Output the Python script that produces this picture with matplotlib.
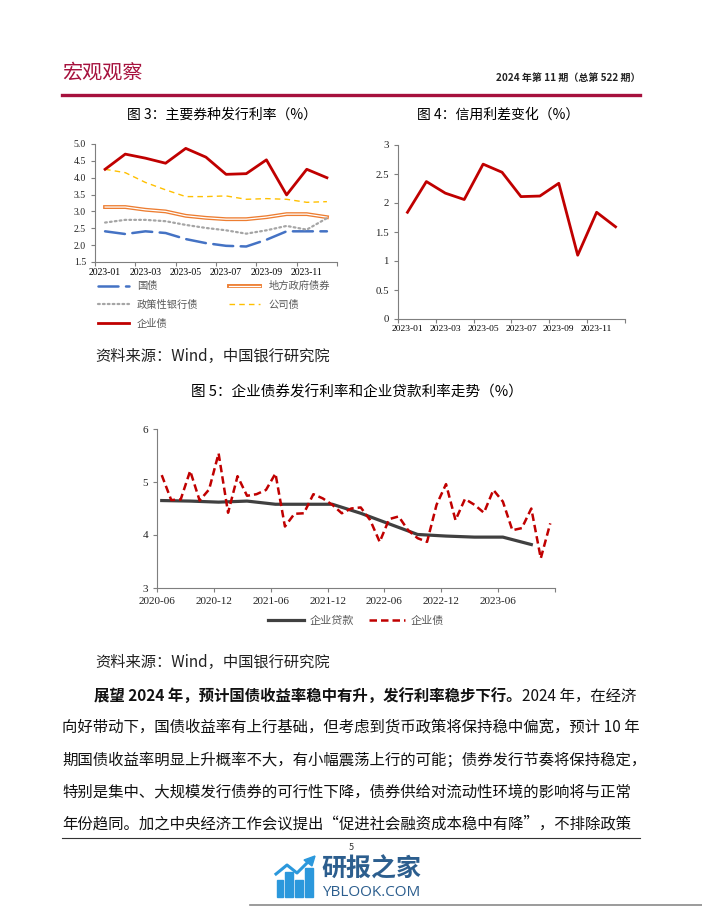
import numpy as np
import pandas as pd
import matplotlib
matplotlib.use('Agg')
import matplotlib.pyplot as plt
from matplotlib.patches import Rectangle, Polygon

plt.rcParams['font.family'] = ['Noto Sans CJK SC', 'DejaVu Sans']

# ---- data: 图3 主要券种发行利率 (2023-01 .. 2023-12)
months_23 = ['2023-01', '2023-02', '2023-03', '2023-04', '2023-05', '2023-06',
             '2023-07', '2023-08', '2023-09', '2023-10', '2023-11', '2023-12']
guozhai = [2.41, 2.33, 2.41, 2.36, 2.18, 2.06, 1.98, 1.96, 2.16, 2.41, 2.41, 2.41]
difang = [3.13, 3.13, 3.05, 3.00, 2.87, 2.81, 2.77, 2.77, 2.83, 2.92, 2.92, 2.83]
zhengce = [2.67, 2.75, 2.75, 2.71, 2.60, 2.51, 2.44, 2.34, 2.44, 2.57, 2.46, 2.80]
gongsi = [4.25, 4.15, 3.86, 3.64, 3.44, 3.44, 3.46, 3.36, 3.38, 3.36, 3.27, 3.29]
qiye = [4.25, 4.70, 4.58, 4.43, 4.87, 4.61, 4.10, 4.12, 4.53, 3.49, 4.25, 4.00]

# ---- data: 图4 信用利差变化
spread = [1.84, 2.37, 2.17, 2.06, 2.67, 2.53, 2.11, 2.12, 2.34, 1.10, 1.84, 1.59]

# ---- data: 图5 企业债券发行利率和企业贷款利率 (2020-06 .. 2023-11)
bond_months = [str(p) for p in pd.period_range('2020-06', '2023-11', freq='M')]
bond_rate = [5.13, 4.66, 4.67, 5.21, 4.65, 4.86, 5.54, 4.42, 5.11, 4.74,
             4.77, 4.85, 5.16, 4.16, 4.40, 4.41, 4.77, 4.69, 4.57, 4.41,
             4.50, 4.52, 4.28, 3.87, 4.30, 4.35, 4.09, 3.94, 3.87, 4.57,
             4.96, 4.28, 4.68, 4.57, 4.42, 4.85, 4.63, 4.09, 4.13, 4.50,
             3.56, 4.22]
loan_months = ['2020-06', '2020-09', '2020-12', '2021-03', '2021-06', '2021-09',
               '2021-12', '2022-03', '2022-06', '2022-09', '2022-12', '2023-03',
               '2023-06', '2023-09']
loan_rate = [4.65, 4.64, 4.62, 4.64, 4.58, 4.58, 4.58, 4.41, 4.21, 4.01,
             3.98, 3.96, 3.96, 3.82]
tick_labels_5 = ['2020-06', '2020-12', '2021-06', '2021-12', '2022-06',
                 '2022-12', '2023-06']

W, H = 702, 907
RED = '#C00000'
CRIMSON = '#A6113D'
SERIF = 'Liberation Serif'


def fx(x):
    return x / W


def fy(y):
    return 1 - y / H


def style_axes(ax):
    for s in ['top', 'right']:
        ax.spines[s].set_visible(False)
    for s in ['left', 'bottom']:
        ax.spines[s].set_color('#7f7f7f')
        ax.spines[s].set_linewidth(0.8)
    ax.tick_params(colors='#7f7f7f', length=3, width=0.8, labelcolor='#222222')


fig = plt.figure(figsize=(W / 100, H / 100), dpi=100)

# ---- page header
fig.text(fx(62), fy(73), '宏观观察', fontsize=14.5, color=CRIMSON, va='center')
fig.text(fx(640), fy(78), '2024 年第 11 期（总第 522 期）', fontsize=7.2,
         color='#222222', ha='right', va='center', fontweight='bold')
fig.add_artist(plt.Line2D([fx(62), fx(640)], [fy(95), fy(95)], color=CRIMSON, lw=2.4))

# ---- 图3
fig.text(fx(222), fy(115), '图 3：主要券种发行利率（%）', fontsize=10, ha='center', va='center')
ax3 = fig.add_axes([fx(95), fy(262), 242 / W, 118 / H])
x = np.arange(len(months_23)) + 0.5
l_gz, = ax3.plot(x, guozhai, color='#4472C4', lw=1.8, dashes=(8, 3), dash_capstyle='round')
l_df1, = ax3.plot(x, difang, color='#ED7D31', lw=2.8)
l_df2, = ax3.plot(x, difang, color='white', lw=0.9)
l_zc, = ax3.plot(x, zhengce, color='#A5A5A5', lw=1.6, dashes=(0.8, 1.4), dash_capstyle='round')
l_gs, = ax3.plot(x, gongsi, color='#FFC000', lw=1.0, dashes=(4, 3))
l_qy, = ax3.plot(x, qiye, color=RED, lw=2.0)
ax3.set_xlim(0, 12)
ax3.set_ylim(1.5, 5.0)
ax3.set_yticks(np.arange(1.5, 5.01, 0.5))
ax3.set_yticklabels(['%.1f' % v for v in np.arange(1.5, 5.01, 0.5)])
ax3.set_xticks(np.arange(0, 13, 2))
ax3.set_xticklabels([])
ax3.set_xticks(x[::2], minor=True)
ax3.set_xticklabels(months_23[::2], minor=True)
style_axes(ax3)
ax3.tick_params(axis='x', which='minor', length=0, pad=4)
for t in ax3.get_xticklabels(minor=True) + ax3.get_yticklabels():
    t.set_family(SERIF)
    t.set_fontsize(7)

fig.legend([l_gz, l_zc, l_qy, (l_df1, l_df2), l_gs],
           ['国债', '政策性银行债', '企业债', '地方政府债券', '公司债'],
           loc='upper left', bbox_to_anchor=(fx(98), fy(281)), ncol=2,
           frameon=False, fontsize=7.4, handlelength=3.0, handletextpad=0.8,
           labelspacing=0.85, columnspacing=3.0, labelcolor='#595959',
           borderaxespad=0, borderpad=0)

# ---- 图4
fig.text(fx(498), fy(115), '图 4：信用利差变化（%）', fontsize=10, ha='center', va='center')
ax4 = fig.add_axes([fx(398), fy(319), 227 / W, 174 / H])
ax4.plot(x, spread, color=RED, lw=2.0)
ax4.set_xlim(0, 12)
ax4.set_ylim(0, 3)
ax4.set_yticks(np.arange(0, 3.01, 0.5))
ax4.set_yticklabels(['0', '0.5', '1', '1.5', '2', '2.5', '3'])
ax4.set_xticks(np.arange(0, 13, 2))
ax4.set_xticklabels([])
ax4.set_xticks(x[::2], minor=True)
ax4.set_xticklabels(months_23[::2], minor=True)
style_axes(ax4)
ax4.tick_params(axis='x', which='minor', length=0, pad=4)
for t in ax4.get_xticklabels(minor=True):
    t.set_family(SERIF)
    t.set_fontsize(6.8)
for t in ax4.get_yticklabels():
    t.set_family(SERIF)
    t.set_fontsize(7.8)

fig.text(fx(95), fy(356), '资料来源：Wind，中国银行研究院', fontsize=11, va='center', color='#222222')

# ---- 图5
fig.text(fx(357), fy(392), '图 5：企业债券发行利率和企业贷款利率走势（%）', fontsize=10.5,
         ha='center', va='center')
ax5 = fig.add_axes([fx(157), fy(588), 398 / W, 159 / H])
xb = np.arange(len(bond_months)) + 0.5
xl = np.array([bond_months.index(m) for m in loan_months]) + 0.5
l_loan, = ax5.plot(xl, loan_rate, color='#404040', lw=2.3)
l_bond, = ax5.plot(xb, bond_rate, color=RED, lw=1.8, dashes=(3, 1.6))
ax5.set_xlim(0, len(bond_months))
ax5.set_ylim(3, 6)
ax5.set_yticks([3, 4, 5, 6])
ax5.set_xticks(np.arange(0, len(bond_months) + 1, 6))
ax5.set_xticklabels(tick_labels_5 + [''])
style_axes(ax5)
for t in ax5.get_xticklabels() + ax5.get_yticklabels():
    t.set_family(SERIF)
    t.set_fontsize(8)

fig.legend([l_loan, l_bond], ['企业贷款', '企业债'], loc='center',
           bbox_to_anchor=(fx(356), fy(621)), ncol=2, frameon=False, fontsize=8,
           handlelength=3.2, handletextpad=0.5, columnspacing=1.4,
           labelcolor='#595959', borderaxespad=0)

fig.text(fx(95), fy(662), '资料来源：Wind，中国银行研究院', fontsize=11, va='center', color='#222222')

# ---- body text
fs = 11.1
t1 = fig.text(fx(94), fy(696), '展望 2024 年，预计国债收益率稳中有升，发行利率稳步下行。',
              fontsize=fs, fontweight='bold', va='center', color='#111111')
fig.canvas.draw()
bb = t1.get_window_extent()
fig.text(bb.x1 / W, fy(696), '2024 年，在经济', fontsize=fs, va='center', color='#111111')
body = ['向好带动下，国债收益率有上行基础，但考虑到货币政策将保持稳中偏宽，预计 10 年',
        '期国债收益率明显上升概率不大，有小幅震荡上行的可能；债券发行节奏将保持稳定，',
        '特别是集中、大规模发行债券的可行性下降，债券供给对流动性环境的影响将与正常',
        '年份趋同。加之中央经济工作会议提出“促进社会融资成本稳中有降”，不排除政策']
for i, line in enumerate(body):
    fig.text(fx(62), fy(728 + 32 * i), line, fontsize=fs, va='center', color='#111111')

# ---- footer
fig.add_artist(plt.Line2D([fx(62), fx(640)], [fy(838), fy(838)], color='#333333', lw=0.8))
fig.text(fx(351), fy(848), '5', fontsize=6.5, ha='center', va='center', color='#333333')
fig.add_artist(plt.Line2D([fx(250), fx(702)], [fy(905), fy(905)], color='#8a8a8a', lw=1.2))

# logo watermark
for bx, by, bw in [(277, 880, 6), (285, 872, 8), (295, 880, 8), (305, 868, 8)]:
    fig.add_artist(Rectangle((fx(bx), fy(897)), bw / W, (897 - by) / H,
                             color='#2B98DC', transform=fig.transFigure))
fig.add_artist(plt.Line2D([fx(276), fx(287), fx(297), fx(309)],
                          [fy(874), fy(865), fy(873), fy(861)], color='#2B98DC', lw=2.2))
fig.add_artist(Polygon([(fx(304), fy(860)), (fx(315), fy(856)), (fx(312), fy(866))],
                       closed=True, color='#2B98DC', transform=fig.transFigure))
fig.text(fx(321), fy(869), '研报之家', fontsize=18, color='#2C5E8E', va='center',
         fontweight='bold')
fig.text(fx(322), fy(892), 'YBLOOK.COM', fontsize=11, color='#2C5E8E', va='center',
         family='Open Sans')

fig.savefig('out.png', dpi=100)
